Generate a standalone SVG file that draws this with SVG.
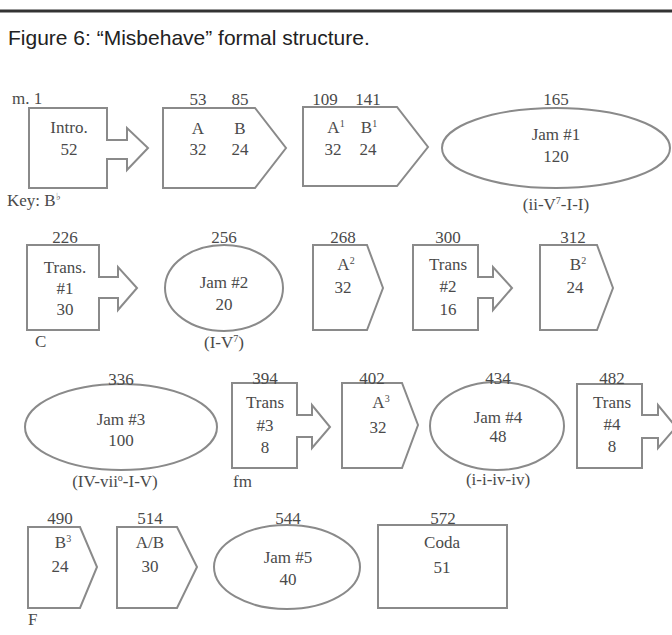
<svg xmlns="http://www.w3.org/2000/svg" width="672" height="635" viewBox="0 0 672 635">
<style>
.s{fill:#fff;stroke:#8a8a8a;stroke-width:2}
.t{font-family:"Liberation Serif","Times New Roman",serif;font-size:17px;fill:#4a4a4a;text-anchor:middle}
.l{text-anchor:start}
.cap{font-family:"Liberation Sans",Arial,sans-serif;font-size:21px;fill:#222}
</style>
<rect width="672" height="635" fill="#fff"/>
<line x1="0" y1="11" x2="672" y2="11" stroke="#333" stroke-width="3"/>
<text class="cap" x="8" y="45">Figure 6: “Misbehave” formal structure.</text>
<g id="connectors"/>
<g id="intro">
<path class="s" d="M29,108 H107 V140 H127 V128 L148,148 L127,170 V159 H107 V188 H29 Z"/>
<text class="t l" x="12" y="104">m. 1</text>
<text class="t" x="69" y="133">Intro.</text>
<text class="t" x="69" y="155">52</text>
<text class="t l" x="7" y="206">Key: B<tspan font-size="10" dy="-6">♭</tspan></text>
</g>
<g id="ab">
<path class="s" d="M163,108 H255 L286,148 L255,188 H163 Z"/>
<text class="t" x="198" y="105">53</text>
<text class="t" x="240" y="105">85</text>
<text class="t" x="198" y="134">A</text>
<text class="t" x="240" y="134">B</text>
<text class="t" x="198" y="155">32</text>
<text class="t" x="240" y="155">24</text>
</g>
<g id="a1b1">
<path class="s" d="M303,107 H397 L428,147 L397,186 H303 Z"/>
<text class="t" x="325" y="105">109</text>
<text class="t" x="368" y="105">141</text>
<text class="t" x="336" y="133">A<tspan font-size="10" dy="-6">1</tspan></text>
<text class="t" x="369" y="133">B<tspan font-size="10" dy="-6">1</tspan></text>
<text class="t" x="333" y="155">32</text>
<text class="t" x="368" y="155">24</text>
</g>
<g id="jam1">
<ellipse class="s" cx="556" cy="148" rx="114" ry="40"/>
<text class="t" x="556" y="105">165</text>
<text class="t" x="556" y="140">Jam #1</text>
<text class="t" x="556" y="162">120</text>
<text class="t" x="556" y="210">(ii-V<tspan font-size="10" dy="-6">7</tspan><tspan dy="6">-I-I)</tspan></text>
</g>
<g id="trans1">
<path class="s" d="M27,245 H99 V277 H118 V267 L137,288 L118,310 V298 H99 V330 H27 Z"/>
<text class="t" x="65" y="243">226</text>
<text class="t" x="65" y="273">Trans.</text>
<text class="t" x="65" y="294">#1</text>
<text class="t" x="65" y="315">30</text>
<text class="t l" x="35" y="347">C</text>
</g>
<g id="jam2">
<ellipse class="s" cx="224" cy="288" rx="59" ry="43"/>
<text class="t" x="224" y="243">256</text>
<text class="t" x="224" y="288">Jam #2</text>
<text class="t" x="224" y="310">20</text>
<text class="t" x="224" y="348">(I-V<tspan font-size="10" dy="-6">7</tspan><tspan dy="6">)</tspan></text>
</g>
<g id="a2">
<path class="s" d="M313,245 H367 L383,288 L367,330 H313 Z"/>
<text class="t" x="343" y="243">268</text>
<text class="t" x="346" y="270">A<tspan font-size="10" dy="-6">2</tspan></text>
<text class="t" x="343" y="293">32</text>
</g>
<g id="trans2">
<path class="s" d="M413,245 H478 V277 H493 V267 L512,288 L493,310 V298 H478 V330 H413 Z"/>
<text class="t" x="448" y="243">300</text>
<text class="t" x="448" y="270">Trans</text>
<text class="t" x="448" y="292">#2</text>
<text class="t" x="448" y="315">16</text>
</g>
<g id="b2">
<path class="s" d="M540,245 H597 L613,288 L597,330 H540 Z"/>
<text class="t" x="573" y="243">312</text>
<text class="t" x="578" y="270">B<tspan font-size="10" dy="-6">2</tspan></text>
<text class="t" x="575" y="293">24</text>
</g>
<g id="jam3">
<ellipse class="s" cx="121" cy="427" rx="96" ry="43"/>
<text class="t" x="121" y="385">336</text>
<text class="t" x="121" y="425">Jam #3</text>
<text class="t" x="121" y="446">100</text>
<text class="t" x="115" y="487">(IV-vii<tspan font-size="10" dy="-6">o</tspan><tspan dy="6">-I-V)</tspan></text>
</g>
<g id="trans3">
<path class="s" d="M232,383 H297 V415 H312 V405 L330,427 L312,448 V437 H297 V468 H232 Z"/>
<text class="t" x="265" y="384">394</text>
<text class="t" x="265" y="408">Trans</text>
<text class="t" x="265" y="431">#3</text>
<text class="t" x="265" y="453">8</text>
<text class="t l" x="233" y="487">fm</text>
</g>
<g id="a3">
<path class="s" d="M342,383 H402 L418,425 L402,468 H342 Z"/>
<text class="t" x="372" y="384">402</text>
<text class="t" x="381" y="408">A<tspan font-size="10" dy="-6">3</tspan></text>
<text class="t" x="378" y="433">32</text>
</g>
<g id="jam4">
<ellipse class="s" cx="497" cy="426" rx="67" ry="44"/>
<text class="t" x="498" y="384">434</text>
<text class="t" x="498" y="423">Jam #4</text>
<text class="t" x="498" y="442">48</text>
<text class="t" x="498" y="485">(i-i-iv-iv)</text>
</g>
<g id="trans4">
<path class="s" d="M577,384 H642 V415 H658 V405 L676,427 L658,448 V438 H642 V468 H577 Z"/>
<text class="t" x="612" y="384">482</text>
<text class="t" x="612" y="408">Trans</text>
<text class="t" x="612" y="430">#4</text>
<text class="t" x="612" y="452">8</text>
</g>
<g id="b3">
<path class="s" d="M28,527 H80 L97,567 L80,608 H28 Z"/>
<text class="t" x="60" y="524">490</text>
<text class="t" x="63" y="548">B<tspan font-size="10" dy="-6">3</tspan></text>
<text class="t" x="60" y="572">24</text>
<text class="t l" x="28" y="625">F</text>
</g>
<g id="ab2">
<path class="s" d="M117,527 H177 L197,567 L177,608 H117 Z"/>
<text class="t" x="150" y="524">514</text>
<text class="t" x="150" y="548">A/B</text>
<text class="t" x="150" y="572">30</text>
</g>
<g id="jam5">
<ellipse class="s" cx="287" cy="567" rx="73" ry="42"/>
<text class="t" x="288" y="524">544</text>
<text class="t" x="288" y="563">Jam #5</text>
<text class="t" x="288" y="585">40</text>
</g>
<g id="coda">
<rect class="s" x="378" y="525" width="129" height="83"/>
<text class="t" x="443" y="524">572</text>
<text class="t" x="442" y="548">Coda</text>
<text class="t" x="442" y="573">51</text>
</g>
</svg>
